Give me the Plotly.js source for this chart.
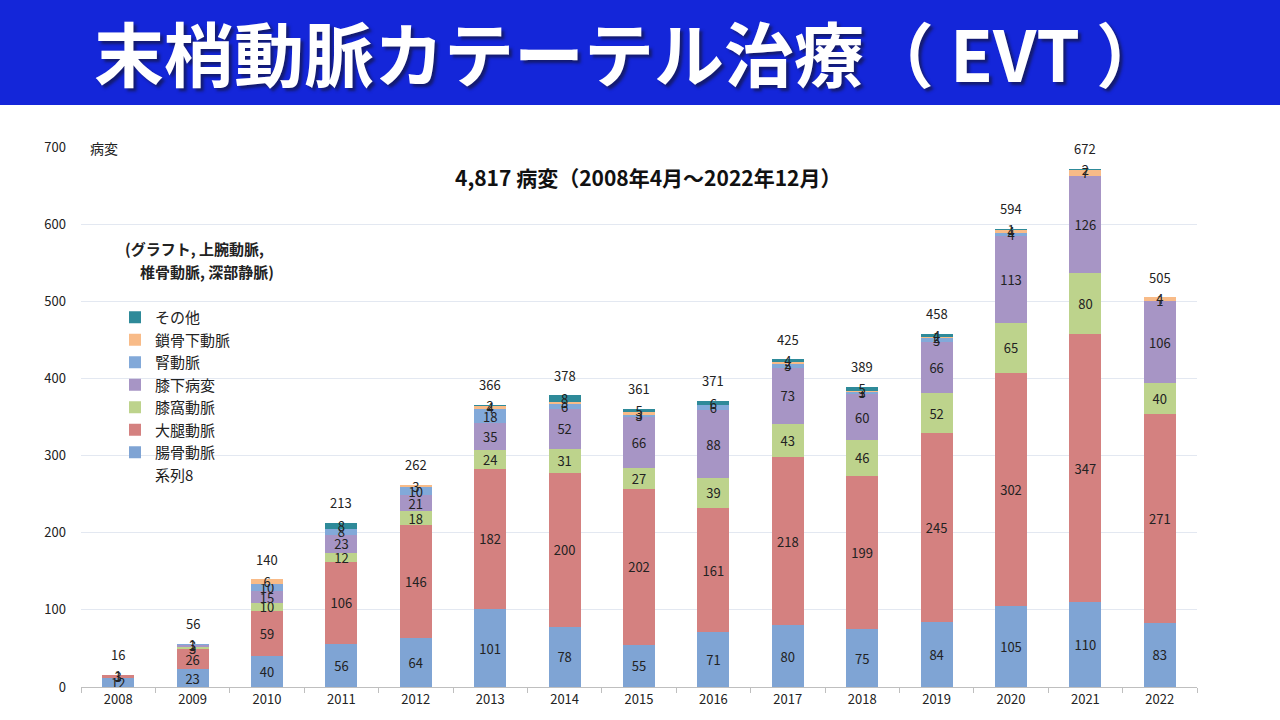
<!DOCTYPE html>
<html>
<head>
<meta charset="utf-8">
<script src="https://cdn.plot.ly/plotly-3.0.1.min.js"></script>
<style>
html,body{margin:0;padding:0;background:#fff;}
#chart{width:1280px;height:720px;}
</style>
</head>
<body>
<div id="chart"></div>
<script>
var years = ['2008','2009','2010','2011','2012','2013','2014','2015','2016','2017','2018','2019','2020','2021','2022'];
var iliac      = [12, 23, 40, 56, 64, 101, 78, 55, 71, 80, 75, 84, 105, 110, 83];
var femoral    = [3, 26, 59, 106, 146, 182, 200, 202, 161, 218, 199, 245, 302, 347, 271];
var popliteal  = [0, 3, 10, 12, 18, 24, 31, 27, 39, 43, 46, 52, 65, 80, 40];
var btk        = [1, 3, 15, 23, 21, 35, 52, 66, 88, 73, 60, 66, 113, 126, 106];
var renal      = [0, 1, 10, 8, 10, 18, 6, 3, 6, 5, 3, 5, 4, 0, 1];
var subclavian = [0, 0, 6, 0, 3, 4, 3, 3, 0, 2, 1, 2, 4, 7, 4];
var other      = [0, 0, 0, 8, 0, 2, 8, 5, 6, 4, 5, 4, 1, 2, 0];
var totals     = [16, 56, 140, 213, 262, 366, 378, 361, 371, 425, 389, 458, 594, 672, 505];

var seriesNames  = ['腸骨動脈','大腿動脈','膝窩動脈','膝下病変','腎動脈','鎖骨下動脈','その他'];
var seriesValues = [iliac, femoral, popliteal, btk, renal, subclavian, other];
var seriesColors = ['#7fa4d4','#d48180','#bdd38c','#a795c5','#82a9d9','#f8bb88','#2e8a99'];

var FONT = '"Noto Sans CJK JP", "Noto Sans", sans-serif';

var traces = [{
  type: 'scatter', mode: 'markers', name: '系列8',
  x: [years[0]], y: [null], marker: {color: 'rgba(0,0,0,0)', size: 1},
  showlegend: true, hoverinfo: 'skip'
}];
for (var s = 0; s < seriesNames.length; s++) {
  traces.push({
    type: 'bar', name: seriesNames[s], x: years, y: seriesValues[s],
    text: seriesValues[s].map(String),
    textposition: 'inside', insidetextanchor: 'middle', constraintext: 'none', textangle: 0,
    textfont: {family: FONT, size: 13, color: '#222'},
    marker: {color: seriesColors[s], line: {width: 0}},
    hoverinfo: 'skip'
  });
}

var PL = 81, PR = 1197, PT = 147, PB = 687;
function px(x){ return (x - PL) / (PR - PL); }
function py(y){ return 1 - (y - PT) / (PB - PT); }

var annotations = [];
for (var i = 0; i < years.length; i++) {
  annotations.push({
    x: i, y: totals[i], xref: 'x', yref: 'y', text: String(totals[i]),
    showarrow: false, yshift: 20, font: {family: FONT, size: 13, color: '#222'}
  });
}
annotations.push({xref:'paper', yref:'paper', x: px(92), y: py(52), xanchor:'left', yanchor:'middle',
  text: '<b>末梢動脈カテーテル治療（ EVT ）</b>', showarrow:false,
  font:{family: FONT, size: 70, color:'#ffffff', shadow: '3px 3px 3px rgba(20,20,40,0.6)'}});
annotations.push({xref:'paper', yref:'paper', x: px(88), y: py(148), xanchor:'left', yanchor:'middle',
  text:'病変', showarrow:false, font:{family: FONT, size: 14, color:'#222'}});
annotations.push({xref:'paper', yref:'paper', x: px(648), y: py(177), xanchor:'center', yanchor:'middle',
  text:'<b>4,817 病変（2008年4月～2022年12月）</b>', showarrow:false, font:{family: FONT, size: 21, color:'#111'}});
annotations.push({xref:'paper', yref:'paper', x: px(123), y: py(248), xanchor:'left', yanchor:'middle',
  text:'<b>(グラフト, 上腕動脈,</b>', showarrow:false, font:{family: FONT, size: 15, color:'#222'}});
annotations.push({xref:'paper', yref:'paper', x: px(138), y: py(271), xanchor:'left', yanchor:'middle',
  text:'<b>椎骨動脈, 深部静脈)</b>', showarrow:false, font:{family: FONT, size: 15, color:'#222'}});

var layout = {
  width: 1280, height: 720,
  margin: {l: PL, r: 1280 - PR, t: PT, b: 720 - PB, pad: 0},
  paper_bgcolor: '#ffffff', plot_bgcolor: '#ffffff',
  barmode: 'stack', bargap: 0.57,
  font: {family: FONT, size: 13, color: '#222'},
  xaxis: {type: 'category', range: [-0.5, years.length - 0.5], categoryarray: years, categoryorder: 'array',
    showgrid: false, showline: true, linecolor: '#bfbfbf', linewidth: 1,
    ticks: 'outside', tickson: 'boundaries', ticklen: 5, tickcolor: '#bfbfbf',
    tickfont: {family: FONT, size: 13, color: '#222'}, fixedrange: true},
  yaxis: {range: [0, 700], dtick: 100, showgrid: true, gridcolor: '#e3e8f1', gridwidth: 1,
    zeroline: false, showline: false, ticks: '', ticklabelstandoff: 14,
    tickfont: {family: FONT, size: 13, color: '#222'}, fixedrange: true},
  legend: {x: px(115), y: py(301), xanchor: 'left', yanchor: 'top', traceorder: 'reversed',
    bgcolor: 'rgba(0,0,0,0)', font: {family: FONT, size: 15, color: '#222'},
    itemwidth: 30, tracegroupgap: 0},
  shapes: [{type: 'rect', xref: 'paper', yref: 'paper', x0: px(0), x1: px(1280), y0: py(105), y1: py(0),
    fillcolor: '#1426d9', line: {width: 0}, layer: 'below'}],
  annotations: annotations,
  showlegend: true
};

Plotly.newPlot('chart', traces, layout, {displayModeBar: false, staticPlot: true});
</script>
</body>
</html>
